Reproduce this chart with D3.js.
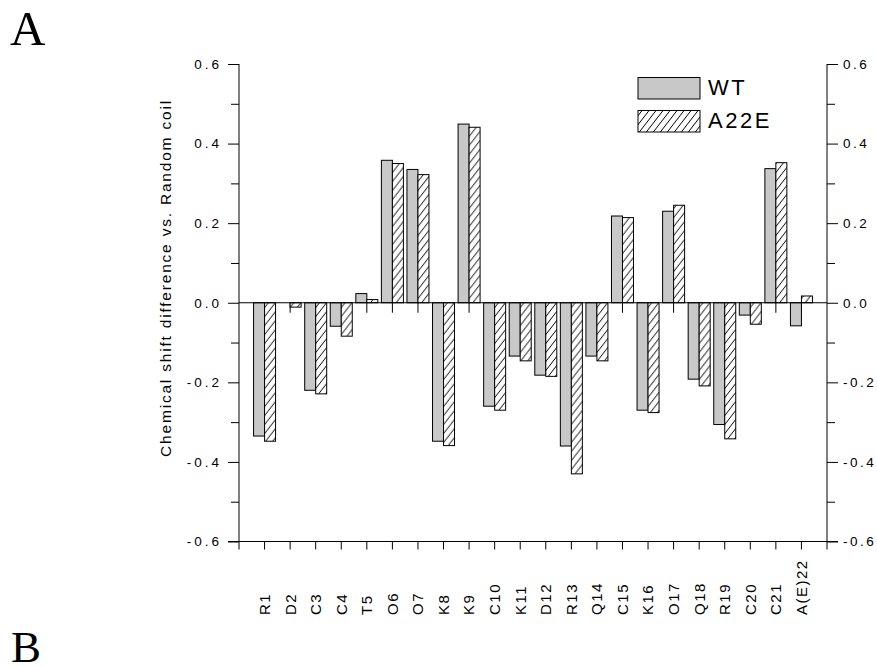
<!DOCTYPE html>
<html>
<head>
<meta charset="utf-8">
<script src="https://cdn.jsdelivr.net/npm/d3@7"></script>
<style>
  html, body { margin: 0; padding: 0; background: #fff; }
  svg { display: block; }
  text { fill: #000; }
</style>
</head>
<body>
<svg id="chart" width="877" height="666" font-family="Arial, 'Liberation Sans', sans-serif"></svg>
<script>
// ---- data ----
const categories = ["R1","D2","C3","C4","T5","O6","O7","K8","K9","C10","K11","D12","R13","Q14","C15","K16","O17","Q18","R19","C20","C21","A(E)22"];
const seriesNames = ["WT","A22E"];
const wtValues   = [-0.335, 0.0, -0.220, -0.059, 0.023, 0.358, 0.335, -0.348, 0.449, -0.260, -0.134, -0.182, -0.360, -0.134, 0.218, -0.270, 0.230, -0.192, -0.306, -0.031, 0.337, -0.058];
const a22eValues = [-0.348, -0.011, -0.229, -0.084, 0.008, 0.350, 0.322, -0.359, 0.441, -0.270, -0.146, -0.185, -0.430, -0.146, 0.214, -0.276, 0.245, -0.209, -0.342, -0.054, 0.352, 0.017];
const yMajorTicks = [-0.6, -0.4, -0.2, 0.0, 0.2, 0.4, 0.6];
const yMinorTicks = [-0.5, -0.3, -0.1, 0.1, 0.3, 0.5];
const yTitle = "Chemical shift difference vs. Random coil";
const panelLabels = ["A", "B"];

// ---- layout ----
const svg = d3.select("#chart");
const L = 239, R = 827, T = 64, B = 541.5;
const SANS = "Arial, 'Liberation Sans', sans-serif";
const SERIF = "'Liberation Serif', 'Times New Roman', serif";

const x0 = d3.scaleBand().domain(categories).range([L, R]).paddingInner(0).paddingOuter(0.5);
const barW = 11;
const x1 = d3.scaleBand().domain(seriesNames)
  .range([x0.bandwidth() / 2 - barW, x0.bandwidth() / 2 + barW]).padding(0);
const y = d3.scaleLinear().domain([-0.6, 0.6]).range([B, T]);
const fmt = v => (Math.abs(v) < 1e-9 ? 0 : v).toFixed(1);

svg.append("rect").attr("width", 877).attr("height", 666).attr("fill", "#fff");

// hatch pattern
const defs = svg.append("defs");
const pat = defs.append("pattern").attr("id", "hatch")
  .attr("patternUnits", "userSpaceOnUse").attr("width", 7).attr("height", 9);
pat.append("rect").attr("width", 7).attr("height", 9).attr("fill", "#fff");
pat.append("path").attr("d", "M0,9 L7,0 M-7,9 L0,0 M7,9 L14,0")
  .attr("stroke", "#000").attr("stroke-width", 1);

const colors = { WT: "#c8c8c8", A22E: "url(#hatch)" };

// zero-line category ticks (under bars)
const g = svg.append("g");
g.append("g").attr("transform", `translate(0,${y(0)})`)
  .call(d3.axisBottom(x0).tickSize(10).tickSizeOuter(0).tickFormat(""))
  .call(s => s.select(".domain").remove())
  .selectAll("line").attr("stroke", "#000");

// bars
const rows = categories.map((c, i) => ({ cat: c, WT: wtValues[i], A22E: a22eValues[i] }));
const cg = g.selectAll("g.cat").data(rows).join("g").attr("class", "cat")
  .attr("transform", d => `translate(${x0(d.cat)},0)`);
cg.selectAll("rect").data(d => seriesNames.map(k => ({ key: k, value: d[k] })))
  .join("rect")
  .filter(d => d.value !== 0)
  .attr("x", d => x1(d.key))
  .attr("width", x1.bandwidth())
  .attr("y", d => y(Math.max(0, d.value)))
  .attr("height", d => Math.abs(y(d.value) - y(0)))
  .attr("fill", d => colors[d.key])
  .attr("stroke", "#000").attr("stroke-width", 1);

// zero line
g.append("line").attr("x1", L).attr("x2", R).attr("y1", y(0)).attr("y2", y(0))
  .attr("stroke", "#000").attr("stroke-width", 1);

// axes
const styleAxis = ls => s => {
  s.attr("font-family", SANS).attr("font-size", null);
  s.selectAll("line").attr("stroke", "#000");
  s.selectAll(".domain").remove();
  s.selectAll("text").attr("font-size", "13.5px").attr("letter-spacing", ls);
};
svg.append("g").attr("transform", `translate(${L},0)`)
  .call(d3.axisLeft(y).tickValues(yMinorTicks).tickSize(8).tickFormat(""))
  .call(styleAxis("3px"));
svg.append("g").attr("transform", `translate(${L},0)`)
  .call(d3.axisLeft(y).tickValues(yMajorTicks).tickSize(11).tickPadding(6).tickFormat(fmt))
  .call(styleAxis("3px"));
svg.append("g").attr("transform", `translate(${R},0)`)
  .call(d3.axisRight(y).tickValues(yMinorTicks).tickSize(8).tickFormat(""))
  .call(styleAxis("2.5px"));
svg.append("g").attr("transform", `translate(${R},0)`)
  .call(d3.axisRight(y).tickValues(yMajorTicks).tickSize(11).tickPadding(5).tickFormat(fmt))
  .call(styleAxis("2.5px"));

// axis lines
svg.append("line").attr("x1", L).attr("x2", L).attr("y1", T).attr("y2", B + 8).attr("stroke", "#000");
svg.append("line").attr("x1", R).attr("x2", R).attr("y1", T).attr("y2", B + 8).attr("stroke", "#000");

// bottom axis
const bx = svg.append("g").attr("transform", `translate(0,${B})`)
  .call(d3.axisBottom(x0).tickSize(8).tickSizeOuter(0).tickPadding(0).tickFormat(""));
bx.select(".domain").remove();
bx.selectAll("line").attr("stroke", "#000");
svg.append("line").attr("x1", L - 11).attr("x2", R + 11).attr("y1", B).attr("y2", B).attr("stroke", "#000");

// category labels
svg.append("g").selectAll("text").data(categories).join("text")
  .attr("transform", d => `translate(${x0(d) + x0.bandwidth() / 2},615) rotate(-90)`)
  .attr("dy", "0.36em")
  .attr("text-anchor", "start")
  .attr("font-size", "15px").attr("letter-spacing", "1.5px")
  .text(d => d);

// y title
svg.append("text")
  .attr("transform", `translate(165,278) rotate(-90)`)
  .attr("text-anchor", "middle").attr("dy", "0.36em")
  .attr("font-size", "15.5px").attr("letter-spacing", "1.8px")
  .text(yTitle);

// legend
const lg = svg.append("g");
seriesNames.forEach((k, i) => {
  lg.append("rect").attr("x", 638).attr("y", 77.5 + i * 33).attr("width", 62).attr("height", 21.5)
    .attr("fill", colors[k]).attr("stroke", "#000").attr("stroke-width", 1);
  lg.append("text").attr("x", 708).attr("y", 95 + i * 33)
    .attr("font-size", "22px").attr("letter-spacing", "2.5px").text(k);
});

// panel letters
svg.append("text").attr("x", 10).attr("y", 45).attr("font-family", SERIF)
  .attr("font-size", "49px").text(panelLabels[0]);
svg.append("text").attr("x", 11).attr("y", 662).attr("font-family", SERIF)
  .attr("font-size", "45px").text(panelLabels[1]);
</script>
</body>
</html>
